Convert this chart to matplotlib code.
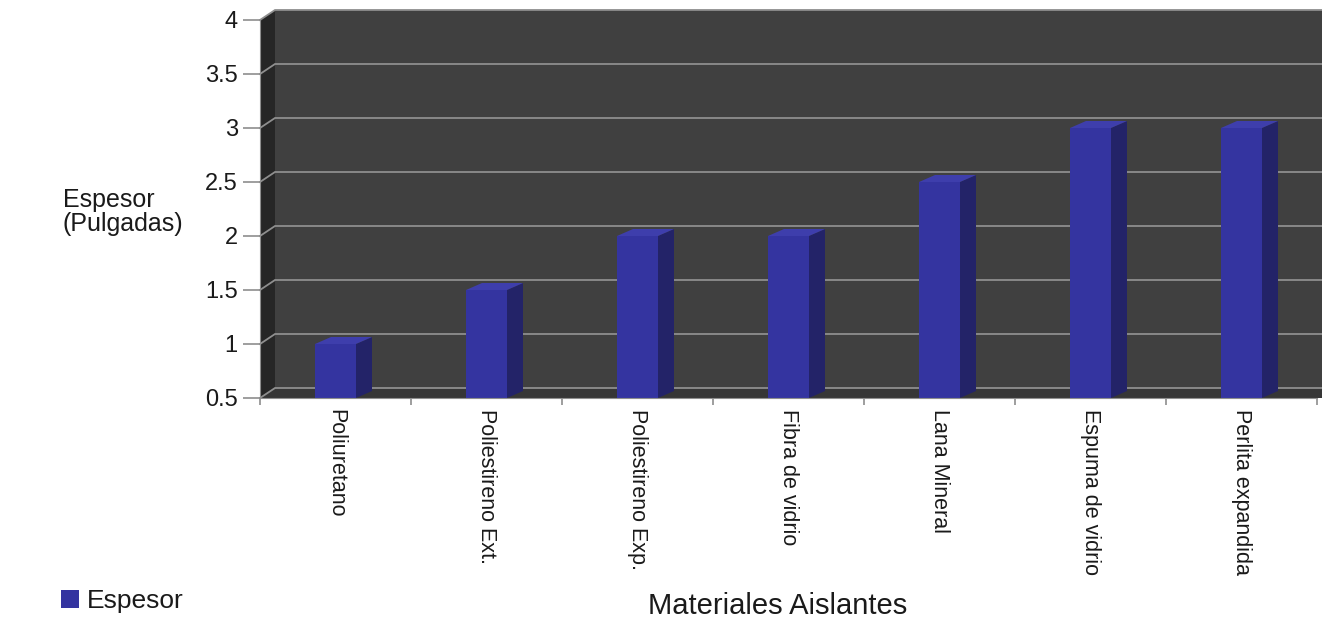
import matplotlib.pyplot as plt
from matplotlib.patches import Polygon

# data
materiales = ["Poliuretano", "Poliestireno Ext.", "Poliestireno Exp.", "Fibra de vidrio",
              "Lana Mineral", "Espuma de vidrio", "Perlita expandida"]
espesor = [1, 1.5, 2, 2, 2.5, 3, 3]
y_ticks = [0.5, 1, 1.5, 2, 2.5, 3, 3.5, 4]

plt.rcParams['font.family'] = ['Liberation Sans', 'DejaVu Sans']

W, H = 1322, 628
fig = plt.figure(figsize=(W / 100, H / 100), dpi=100)
fig.patch.set_facecolor('white')

# axes placed in pixel terms (front plane of the 3D box)
left, right, top, bottom = 260, 1317, 20, 398
ax = fig.add_axes([left / W, 1 - bottom / H, (right - left) / W, (bottom - top) / H])
ax.set_facecolor('none')
ax.set_xlim(-0.5, 6.5)
ax.set_ylim(0.5, 4)

px_x = (right - left) / 7.0      # pixels per x unit
px_y = (bottom - top) / 3.5      # pixels per y unit
ddx, ddy = 15 / px_x, 10 / px_y  # wall depth
bdx, bdy = 16 / px_x, 7 / px_y   # bar depth
bw = 41 / px_x

# walls
x0, x1 = -0.5, 7.0
ax.add_patch(Polygon([(x0 + ddx, 0.5 + ddy), (x1, 0.5 + ddy), (x1, 4 + ddy), (x0 + ddx, 4 + ddy)],
                     closed=True, fc='#404040', ec='none', zorder=0, clip_on=False))
ax.add_patch(Polygon([(x0, 0.5), (x0, 4), (x0 + ddx, 4 + ddy), (x0 + ddx, 0.5 + ddy)],
                     closed=True, fc='#262626', ec='none', zorder=0, clip_on=False))
ax.add_patch(Polygon([(x0, 0.5), (x1, 0.5), (x1, 0.5 + ddy), (x0 + ddx, 0.5 + ddy)],
                     closed=True, fc='#363636', ec='none', zorder=0.5, clip_on=False))

# gridlines on back wall
for yv in y_ticks:
    ax.plot([x0, x0 + ddx, x1], [yv, yv + ddy, yv + ddy], color='#8e8e8e', lw=1.3,
            zorder=1, clip_on=False, solid_joinstyle='miter')

# bars
xs = list(range(len(materiales)))
bars = ax.bar(xs, [v - 0.5 for v in espesor], bottom=0.5, width=bw, color='#3434a0',
              edgecolor='none', zorder=3, label='Espesor')
for x, v in zip(xs, espesor):
    r = x + bw / 2
    l = x - bw / 2
    ax.add_patch(Polygon([(r, 0.5), (r, v), (r + bdx, v + bdy), (r + bdx, 0.5 + bdy)],
                         closed=True, fc='#232368', ec='none', zorder=3, clip_on=False))
    ax.add_patch(Polygon([(l, v), (r, v), (r + bdx, v + bdy), (l + bdx, v + bdy)],
                         closed=True, fc='#3e3eac', ec='none', zorder=3, clip_on=False))

# spines & ticks
for s in ['top', 'right']:
    ax.spines[s].set_visible(False)
ax.spines['left'].set_color('#8e8e8e')
ax.spines['bottom'].set_color('#8e8e8e')
ax.spines['left'].set_zorder(4)
ax.spines['bottom'].set_zorder(4)

ax.set_yticks(y_ticks)
ax.set_yticklabels([f"{v:g}" for v in y_ticks], fontsize=17, color='#1a1a1a')
ax.tick_params(axis='y', length=12, width=1.2, color='#8e8e8e', pad=4)

ax.set_xticks(xs)
ax.set_xticklabels(materiales, rotation=270, fontsize=15.5, color='#1a1a1a', va='top', ha='center')
ax.set_xticks([i - 0.5 for i in range(len(materiales) + 1)], minor=True)
ax.tick_params(axis='x', which='major', length=0, pad=8)
ax.tick_params(axis='x', which='minor', length=5, width=1.2, color='#8e8e8e')

fig.text(63 / W, 1 - 212 / H, 'Espesor\n(Pulgadas)', ha='left', va='center', fontsize=18,
         color='#1a1a1a', linespacing=1.0)
fig.text(778 / W, 1 - 606 / H, 'Materiales Aislantes', ha='center', va='center', fontsize=21,
         color='#1a1a1a')

fig.legend(handles=[bars], labels=['Espesor'], loc='center left',
           bbox_to_anchor=(50 / W, 1 - 601 / H), frameon=False, fontsize=19,
           handlelength=0.7, handleheight=0.7, handletextpad=0.3, borderaxespad=0,
           labelcolor='#1a1a1a')

fig.savefig('out.png', dpi=100)
